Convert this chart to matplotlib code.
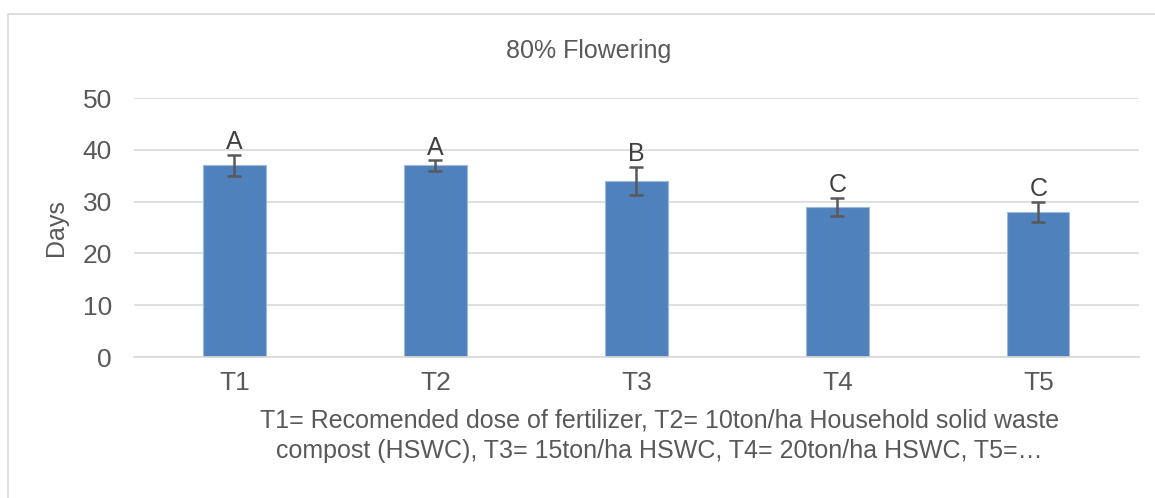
import matplotlib.pyplot as plt
from matplotlib.patches import Rectangle

plt.rcParams['font.family'] = ['Liberation Sans', 'DejaVu Sans']

# data
treatments = ['T1', 'T2', 'T3', 'T4', 'T5']
days = [37, 37, 34, 29, 28]
errors = [2.0, 1.0, 2.7, 1.7, 2.0]
letters = ['A', 'A', 'B', 'C', 'C']
yticks = [0, 10, 20, 30, 40, 50]

note = ('T1= Recomended dose of fertilizer, T2= 10ton/ha Household solid waste\n'
        'compost (HSWC), T3= 15ton/ha HSWC, T4= 20ton/ha HSWC, T5=\u2026')

txt = '#595959'
fig = plt.figure(figsize=(11.55, 4.98), dpi=100)
ax = fig.add_axes([0.116, 0.283, 0.870, 0.520])

# outer chart border
fig.patches.append(Rectangle((8 / 1155, -0.1), 1.2, 1 - 14 / 498 + 0.1,
                             transform=fig.transFigure, fill=False,
                             edgecolor='#d9d9d9', linewidth=1.2))

x = range(len(treatments))
ax.bar(x, days, width=0.31, color='#4f81bd', edgecolor='#9fb9dd', linewidth=0.8, zorder=2)
ax.errorbar(x, days, yerr=errors, fmt='none', ecolor='#595959', elinewidth=1.8,
            capsize=5, capthick=1.8, zorder=3)
for i in x:
    ax.annotate(letters[i], (i, days[i] + errors[i]), xytext=(0, 0.5),
                textcoords='offset points', ha='center', va='bottom',
                fontsize=18, color='#404040')

ax.set_xlim(-0.5, 4.5)
ax.set_ylim(0, 50)
ax.set_yticks(yticks)
ax.set_xticks(list(x))
ax.set_xticklabels(treatments)
ax.yaxis.grid(True, color='#d9d9d9', linewidth=1.2, zorder=0)
ax.set_axisbelow(True)
for s in ['top', 'right', 'left']:
    ax.spines[s].set_visible(False)
ax.spines['bottom'].set_color('#d9d9d9')
ax.spines['bottom'].set_linewidth(1.2)
ax.tick_params(axis='both', length=0, labelsize=19, labelcolor=txt)
ax.tick_params(axis='y', pad=16)
ax.tick_params(axis='x', pad=10)
ax.set_ylabel('Days', fontsize=18, color=txt, labelpad=10)

fig.text(0.51, 0.898, '80% Flowering', ha='center', va='center', fontsize=18, color=txt)
fig.text(0.571, 0.125, note, ha='center', va='center', fontsize=18, color=txt,
         linespacing=1.3)

fig.savefig('out.png', dpi=100)
